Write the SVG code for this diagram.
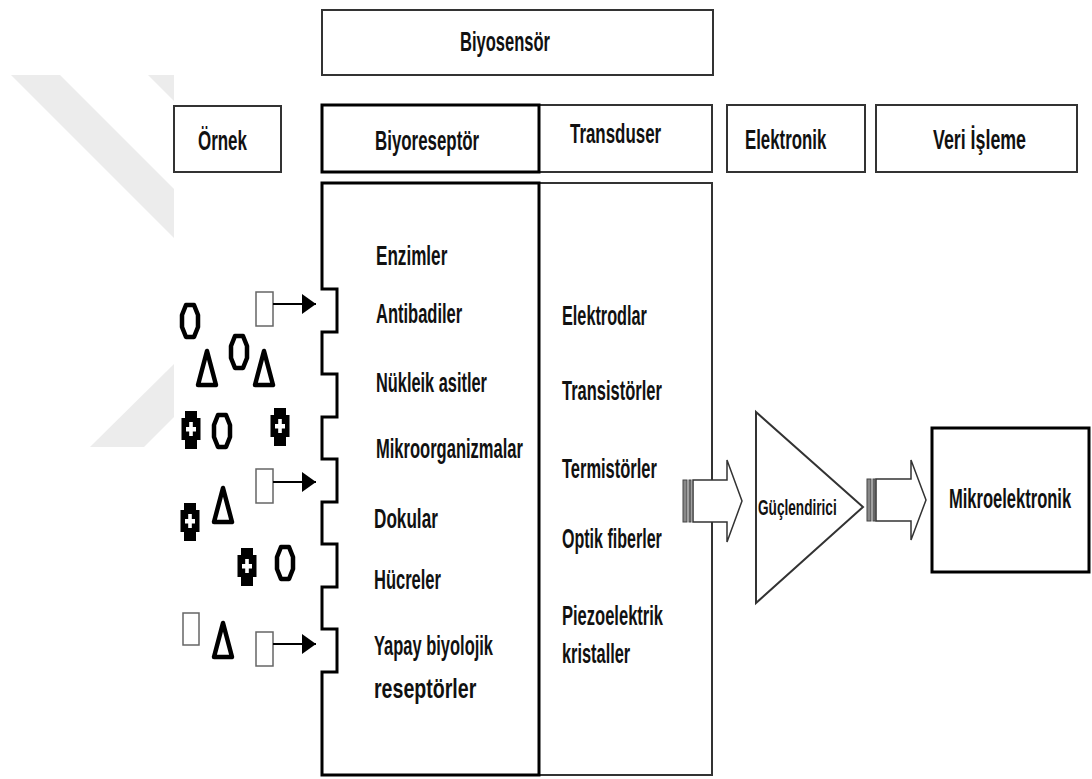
<svg xmlns="http://www.w3.org/2000/svg" width="1092" height="779" viewBox="0 0 1092 779">
<style>
.t{font-family:"Liberation Sans",Arial,sans-serif;font-weight:bold;font-size:27px;fill:#111}
.s{font-size:22px}
.box{fill:#fff;stroke:#333;stroke-width:2}
.bk{fill:none;stroke:#000;stroke-width:3}
.sh{fill:#fff;stroke:#000;stroke-width:4.5;stroke-linejoin:round}
.sq{fill:#fff;stroke:#666;stroke-width:1.5}
.ln{stroke:#000;stroke-width:2;fill:none}
.ba{fill:#fff;stroke:#333;stroke-width:1.5}
.st{fill:#888;stroke:#444;stroke-width:1}
.wm{fill:#ececec}
</style>
<defs>
<marker id="ah" markerUnits="userSpaceOnUse" markerWidth="14" markerHeight="20" viewBox="0 0 14 20" refX="14" refY="10" orient="auto">
<path d="M0,0 L14,10 L0,20 z" fill="#000"/>
</marker>
<polygon id="hex" points="-4,-16 4,-16 8,-6 8,6 4,16 -4,16 -8,6 -8,-6"/>
<polygon id="tri" points="0,-17 9,17 -9,17"/>
<g id="crs">
<polygon points="-6,-19 6,-19 6,-12 9.5,-12 9.5,10 6,10 6,19 -6,19 -6,10 -9.5,10 -9.5,-12 -6,-12" fill="#000"/>
<rect x="-1.8" y="-8" width="3.6" height="14" fill="#fff"/>
<rect x="-5" y="-3" width="10" height="4.5" fill="#fff"/>
</g>
</defs>
<rect width="1092" height="779" fill="#fff"/>
<g id="watermark">
<polygon class="wm" points="11,75 60,75 174,189 174,238"/>
<polygon class="wm" points="148,75 174,75 174,101"/>
<polygon class="wm" points="174,364 174,417 144,447 90,447"/>
</g>
<g id="biyosensor">
<rect class="box" x="322" y="10" width="391" height="65"/>
<text class="t" transform="translate(460,51) scale(.62,1)" textLength="145" lengthAdjust="spacingAndGlyphs">Biyosensör</text>
</g>
<g id="ornek">
<rect class="box" x="174" y="106" width="107" height="66"/>
<text class="t" transform="translate(198,150) scale(.62,1)" textLength="79" lengthAdjust="spacingAndGlyphs">Örnek</text>
</g>
<g id="biyoreseptor-baslik">
<rect class="box" x="539" y="105" width="173" height="67"/>
<rect x="322" y="105" width="217" height="67" fill="#fff" stroke="#000" stroke-width="3"/>
<text class="t" transform="translate(375,150) scale(.62,1)" textLength="168" lengthAdjust="spacingAndGlyphs">Biyoreseptör</text>
</g>
<g id="transduser-baslik">
<text class="t" transform="translate(570,143) scale(.62,1)" textLength="147" lengthAdjust="spacingAndGlyphs">Transduser</text>
</g>
<g id="elektronik">
<rect class="box" x="727" y="105" width="138" height="67"/>
<text class="t" transform="translate(745,149) scale(.62,1)" textLength="131" lengthAdjust="spacingAndGlyphs">Elektronik</text>
</g>
<g id="veri-isleme">
<rect class="box" x="876" y="105" width="201" height="67"/>
<text class="t" transform="translate(933,149) scale(.62,1)" textLength="150" lengthAdjust="spacingAndGlyphs">Veri İşleme</text>
</g>
<g id="transduser">
<rect class="box" x="539" y="183" width="173" height="592"/>
<text class="t" transform="translate(562,325) scale(.62,1)" textLength="137" lengthAdjust="spacingAndGlyphs">Elektrodlar</text>
<text class="t" transform="translate(562,400) scale(.62,1)" textLength="161" lengthAdjust="spacingAndGlyphs">Transistörler</text>
<text class="t" transform="translate(562,478) scale(.62,1)" textLength="153" lengthAdjust="spacingAndGlyphs">Termistörler</text>
<text class="t" transform="translate(562,548) scale(.62,1)" textLength="161" lengthAdjust="spacingAndGlyphs">Optik fiberler</text>
<text class="t" transform="translate(562,625) scale(.62,1)" textLength="163" lengthAdjust="spacingAndGlyphs">Piezoelektrik</text>
<text class="t" transform="translate(562,663) scale(.62,1)" textLength="110" lengthAdjust="spacingAndGlyphs">kristaller</text>
</g>
<g id="biyoreseptor">
<path class="bk" d="M322,183 V289 H337 V332 H322 V374 H337 V417 H322 V459 H337 V502 H322 V544 H337 V587 H322 V629 H337 V672 H322 V775 H539 V183 Z"/>
<text class="t" transform="translate(376,265) scale(.62,1)" textLength="115" lengthAdjust="spacingAndGlyphs">Enzimler</text>
<text class="t" transform="translate(376,323) scale(.62,1)" textLength="139" lengthAdjust="spacingAndGlyphs">Antibadiler</text>
<text class="t" transform="translate(376,392) scale(.62,1)" textLength="179" lengthAdjust="spacingAndGlyphs">Nükleik asitler</text>
<text class="t" transform="translate(376,458) scale(.62,1)" textLength="237" lengthAdjust="spacingAndGlyphs">Mikroorganizmalar</text>
<text class="t" transform="translate(374,528) scale(.62,1)" textLength="103" lengthAdjust="spacingAndGlyphs">Dokular</text>
<text class="t" transform="translate(374,589) scale(.62,1)" textLength="108" lengthAdjust="spacingAndGlyphs">Hücreler</text>
<text class="t" transform="translate(374,655) scale(.62,1)" textLength="192" lengthAdjust="spacingAndGlyphs">Yapay biyolojik</text>
<text class="t" transform="translate(374,698) scale(.62,1)" textLength="165" lengthAdjust="spacingAndGlyphs">reseptörler</text>
</g>
<g id="ornek-molekuller">
<use href="#hex" class="sh" x="190" y="321"/>
<use href="#hex" class="sh" x="239" y="352"/>
<use href="#hex" class="sh" x="222" y="431"/>
<use href="#hex" class="sh" x="285" y="563"/>
<use href="#tri" class="sh" x="207" y="368"/>
<use href="#tri" class="sh" x="264" y="368"/>
<use href="#tri" class="sh" x="223" y="505"/>
<use href="#tri" class="sh" x="223" y="640"/>
<use href="#crs" x="191" y="430"/>
<use href="#crs" x="280" y="427"/>
<use href="#crs" x="190" y="522"/>
<use href="#crs" x="247" y="567"/>
<rect class="sq" x="183" y="613" width="16" height="32"/>
</g>
<g id="guclendirici">
<polygon points="756,412 863,507 756,603" fill="#fff" stroke="#333" stroke-width="2"/>
<text class="t s" transform="translate(758,515) scale(.62,1)" textLength="127" lengthAdjust="spacingAndGlyphs">Güçlendirici</text>
</g>
<g id="mikroelektronik">
<rect x="932" y="428" width="157" height="144" fill="#fff" stroke="#000" stroke-width="3"/>
<text class="t" transform="translate(949,508) scale(.62,1)" textLength="197" lengthAdjust="spacingAndGlyphs">Mikroelektronik</text>
</g>
<g id="connectors">
<rect class="sq" x="256" y="292" width="17" height="34"/>
<line class="ln" x1="273" y1="304" x2="316" y2="304" marker-end="url(#ah)"/>
<rect class="sq" x="256" y="469" width="17" height="34"/>
<line class="ln" x1="273" y1="482" x2="316" y2="482" marker-end="url(#ah)"/>
<rect class="sq" x="256" y="632" width="17" height="34"/>
<line class="ln" x1="273" y1="644" x2="316" y2="644" marker-end="url(#ah)"/>
<rect class="st" x="683" y="480" width="4" height="42"/>
<rect class="st" x="689" y="480" width="2" height="42"/>
<polygon class="ba" points="693,480 727,480 727,460 742,501 727,542 727,522 693,522"/>
<rect class="st" x="867" y="479" width="4" height="42"/>
<rect class="st" x="873" y="479" width="2" height="42"/>
<polygon class="ba" points="876,479 911,479 911,460 926,500 911,540 911,521 876,521"/>
</g>
</svg>
